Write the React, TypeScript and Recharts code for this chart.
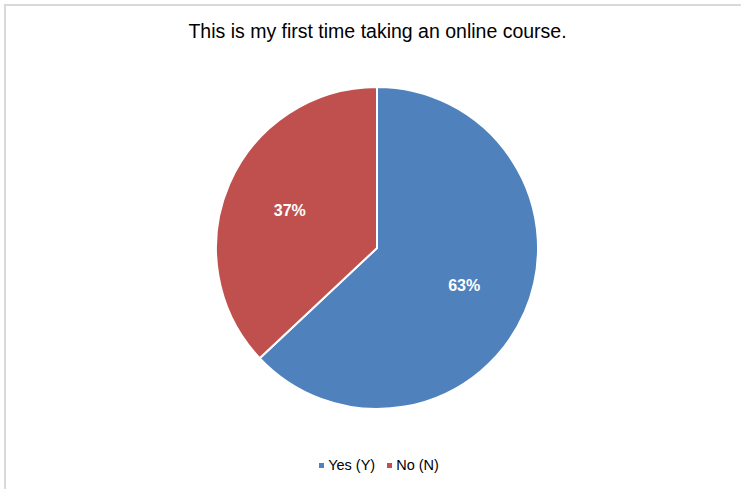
import { PieChart, Pie, Cell } from "recharts"

const CATEGORIES = ["Yes (Y)", "No (N)"]
const VALUES = [63, 37]
const COLORS = ["#4F81BD", "#C0504D"]
const TITLE = "This is my first time taking an online course."

const data = CATEGORIES.map((name, i) => ({ name, value: VALUES[i] }))

const RADIAN = Math.PI / 180

// etiquetas de porcentaje dentro de cada sector
const renderLabel = (props: any) => {
  const { cx, cy, midAngle, percent } = props
  const r = 95
  const x = cx + r * Math.cos(-midAngle * RADIAN)
  const y = cy + r * Math.sin(-midAngle * RADIAN)
  return (
    <text
      x={x}
      y={y}
      fill="#ffffff"
      textAnchor="middle"
      dominantBaseline="central"
      fontFamily="'Liberation Sans', Arial, sans-serif"
      fontSize={16}
      fontWeight="bold"
    >
      {`${(percent * 100).toFixed(0)}%`}
    </text>
  )
}

export default function App() {
  return (
    <div
      style={{
        position: "absolute",
        left: 0,
        top: 0,
        width: 741,
        height: 489,
        overflow: "hidden",
        background: "#ffffff",
        fontFamily: "'Liberation Sans', Arial, sans-serif",
      }}
    >
      <div
        style={{
          position: "absolute",
          left: 4,
          top: 4,
          width: 760,
          height: 500,
          border: "2px solid #d9d9d9",
          boxSizing: "border-box",
        }}
      />
      <div
        style={{
          position: "absolute",
          left: 0,
          top: 20,
          width: 755,
          textAlign: "center",
          fontSize: 19.5,
          color: "#000000",
        }}
      >
        {TITLE}
      </div>
      <div style={{ position: "absolute", left: 0, top: 0 }}>
        <PieChart width={741} height={489} margin={{ top: 0, right: 0, bottom: 0, left: 0 }}>
          <Pie
            data={data}
            dataKey="value"
            nameKey="name"
            cx={377}
            cy={248}
            outerRadius={161}
            startAngle={90}
            endAngle={-270}
            stroke="#ffffff"
            strokeWidth={2}
            labelLine={false}
            label={renderLabel}
            isAnimationActive={false}
          >
            {data.map((entry, index) => (
              <Cell key={`cell-${index}`} fill={COLORS[index % COLORS.length]} />
            ))}
          </Pie>
        </PieChart>
      </div>
      <div
        style={{
          position: "absolute",
          left: 0,
          top: 457,
          width: 758,
          display: "flex",
          justifyContent: "center",
          alignItems: "center",
          fontSize: 14.5,
          color: "#000000",
        }}
      >
        {data.map((entry, index) => (
          <div key={entry.name} style={{ display: "flex", alignItems: "center", margin: "0 6px" }}>
            <span
              style={{
                display: "inline-block",
                width: 5,
                height: 5,
                background: COLORS[index],
                marginRight: 4,
              }}
            />
            <span>{entry.name}</span>
          </div>
        ))}
      </div>
    </div>
  )
}
